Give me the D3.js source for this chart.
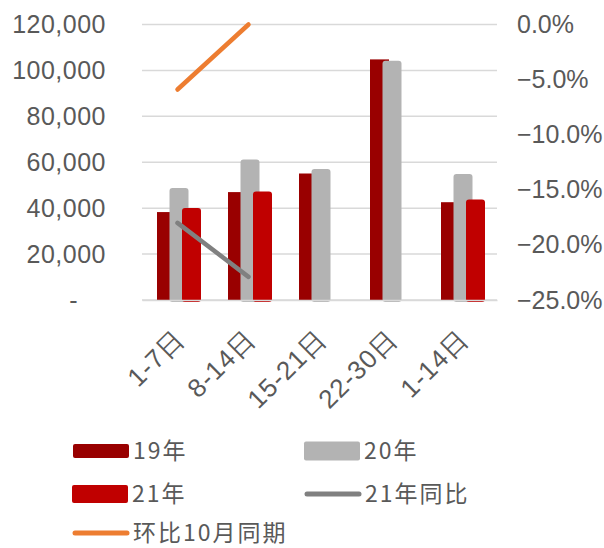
<!DOCTYPE html>
<html>
<head>
<meta charset="utf-8">
<script src="https://cdn.jsdelivr.net/npm/d3@7"></script>
<style>
  body { margin: 0; background: #fff; }
  svg { display: block; font-family: "Noto Sans CJK SC", "Noto Sans", sans-serif; }
</style>
</head>
<body>
<div id="chart"></div>
<script>
// categories and series
let categories = ["1-7日", "8-14日", "15-21日", "22-30日", "1-14日"];
let barSeries = ["19年", "20年", "21年"];
let values19 = [38300, 47000, 55100, 104800, 42600];
let values20 = [48800, 61200, 57100, 104200, 54900];
let values21 = [40100, 47300, null, null, 43800];
let yoy21 = [-18.0, -22.9, null, null, null];
let momOct = [-5.9, 0.0, null, null, null];
let leftTicks = [0, 20000, 40000, 60000, 80000, 100000, 120000];
let rightTicks = [0, -5, -10, -15, -20, -25];

let width = 604;
let height = 548;
let textColor = "#595959";
let barColors = { "19年": "#990000", "20年": "#b3b3b3", "21年": "#c00000" };
let yoyColor = "#808080";
let momColor = "#ed7d31";

let svg = d3.select("#chart").append("svg")
  .attr("width", width)
  .attr("height", height);

let x = d3.scaleBand()
  .domain(categories)
  .range([142, 497]);

// left edge of each overlapping bar inside a group
let xInner = d3.scalePoint()
  .domain(barSeries)
  .range([15, 40]);
let barWidth = 19;

let y = d3.scaleLinear()
  .domain([0, 120000])
  .range([300, 24.5]);

let yRight = d3.scaleLinear()
  .domain([-25, 0])
  .range([300, 24.5]);

// gridlines
svg.append("g")
  .selectAll("line")
  .data(leftTicks)
  .enter()
  .append("line")
  .attr("x1", 142)
  .attr("x2", 497)
  .attr("y1", d => y(d))
  .attr("y2", d => y(d))
  .attr("stroke", "#d9d9d9")
  .attr("stroke-width", 1.5);

// left axis
let yAxis = d3.axisLeft(y)
  .tickValues(leftTicks)
  .tickSize(0)
  .tickPadding(0)
  .tickFormat(d => d === 0 ? "-" : d3.format(",")(d));

let gLeft = svg.append("g")
  .attr("transform", "translate(106, 0)")
  .call(yAxis);
gLeft.select(".domain").remove();
gLeft.selectAll("text")
  .attr("fill", textColor)
  .style("font-size", "25px")
  .style("letter-spacing", "0.5px")
  .attr("dx", d => d === 0 ? -28 : 0);

// right axis
let yRightAxis = d3.axisRight(yRight)
  .tickValues(rightTicks)
  .tickSize(0)
  .tickPadding(0)
  .tickFormat(d => d3.format(".1f")(d) + "%");

let gRight = svg.append("g")
  .attr("transform", "translate(517, 0)")
  .call(yRightAxis);
gRight.select(".domain").remove();
gRight.selectAll("text")
  .attr("fill", textColor)
  .style("font-size", "25px");

// bars
let seriesData = [values19, values20, values21];
barSeries.forEach(function (s, si) {
  svg.append("g")
    .selectAll("rect")
    .data(categories.map((c, i) => ({ cat: c, value: seriesData[si][i] })).filter(d => d.value != null))
    .enter()
    .append("rect")
    .attr("x", d => x(d.cat) + xInner(s))
    .attr("y", d => y(d.value))
    .attr("width", barWidth)
    .attr("height", d => y(0) - y(d.value) + (si === 0 ? 0 : 2))
    .attr("rx", si === 0 ? 0 : 3)
    .attr("fill", barColors[s]);
});

// lines on secondary axis
let line = d3.line()
  .defined(d => d.value != null)
  .x(d => x(d.cat) + x.bandwidth() / 2)
  .y(d => yRight(d.value));

[[yoy21, yoyColor], [momOct, momColor]].forEach(function (pair) {
  svg.append("path")
    .datum(categories.map((c, i) => ({ cat: c, value: pair[0][i] })))
    .attr("d", line)
    .attr("fill", "none")
    .attr("stroke", pair[1])
    .attr("stroke-width", 4.5)
    .attr("stroke-linecap", "round");
});

// x axis
let xAxis = d3.axisBottom(x)
  .tickSize(0)
  .tickPadding(0);

let gBottom = svg.append("g")
  .attr("transform", "translate(0, 300)")
  .call(xAxis);
gBottom.select(".domain")
  .attr("stroke", "#d9d9d9")
  .attr("stroke-width", 1.5);
gBottom.selectAll("text")
  .attr("fill", textColor)
  .style("font-size", "26px")
  .style("letter-spacing", "1px")
  .attr("text-anchor", "end")
  .attr("dy", "0.35em")
  .attr("transform", "translate(2, 34) rotate(-45)");

// legend
let legendItems = [
  { name: "19年", type: "rect", color: barColors["19年"], x: 73, y: 451, h: 14 },
  { name: "20年", type: "rect", color: barColors["20年"], x: 304, y: 451, h: 19 },
  { name: "21年", type: "rect", color: barColors["21年"], x: 72, y: 494, h: 18 },
  { name: "21年同比", type: "line", color: yoyColor, x: 305, y: 494 },
  { name: "环比10月同期", type: "line", color: momColor, x: 73, y: 533 }
];

let legend = svg.append("g")
  .selectAll("g")
  .data(legendItems)
  .enter()
  .append("g")
  .attr("transform", d => `translate(${d.x}, ${d.y})`);

legend.filter(d => d.type === "rect")
  .append("rect")
  .attr("x", 0)
  .attr("y", d => -d.h / 2)
  .attr("width", 56)
  .attr("height", d => d.h)
  .attr("rx", 2)
  .attr("fill", d => d.color);

legend.filter(d => d.type === "line")
  .append("line")
  .attr("x1", 2)
  .attr("x2", 54)
  .attr("stroke", d => d.color)
  .attr("stroke-width", 5)
  .attr("stroke-linecap", "round");

legend.append("text")
  .attr("x", 60)
  .attr("dy", "0.35em")
  .attr("fill", textColor)
  .style("font-size", "23px")
  .style("letter-spacing", "2px")
  .text(d => d.name);
</script>
</body>
</html>
